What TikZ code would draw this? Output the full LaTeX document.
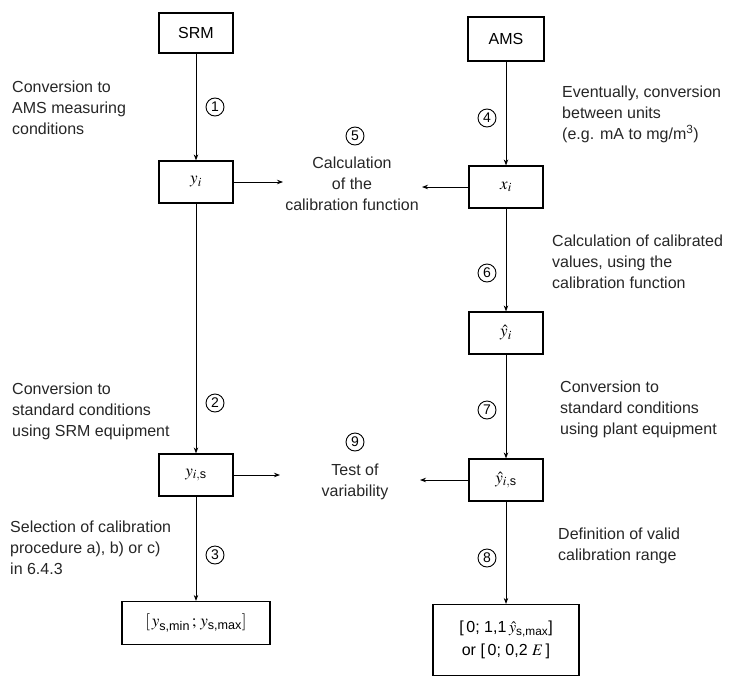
\documentclass[tikz,border=0pt]{standalone}
\usepackage{amsmath}
\usepackage{mathptmx}
\usepackage{fontspec}
\setmainfont{Liberation Sans}
\setsansfont{Liberation Sans}
\usetikzlibrary{arrows.meta}
\begin{document}
\begin{tikzpicture}[x=1pt,y=-1pt,
  box/.style={draw, line width=1.2pt, minimum width=74pt, minimum height=42pt, inner sep=2pt, font=\fontsize{17}{21}\selectfont},
  num/.style={draw, circle, line width=0.9pt, minimum size=18pt, inner sep=0pt, font=\fontsize{14}{14}\selectfont},
  txt/.style={align=left, anchor=north west, inner sep=0pt, font=\fontsize{16}{21}\selectfont, text=black!85},
  ctxt/.style={align=center, anchor=north, inner sep=0pt, font=\fontsize{16}{21}\selectfont, text=black!85},
  arr/.style={-{Stealth[length=6pt,width=4.5pt]}, line width=0.8pt}
]
\useasboundingbox (0,0) rectangle (733,680);
% boxes
\node[box, minimum height=40pt, font=\fontsize{16}{21}\selectfont] (srm) at (196,33) {SRM};
\node[box] (yi) at (196,182) {$y_i$};
\node[box] (yis) at (196,475) {$y_{i,\textsf{s}}$};
\node[box, minimum width=148pt, minimum height=43pt] (ylim) at (196,623) {$[\,y_{\textsf{s,min}}\,;\,y_{\textsf{s,max}}]$};
\node[box, minimum width=76pt, minimum height=44pt, font=\fontsize{16}{21}\selectfont] (ams) at (506,39) {AMS};
\node[box] (xi) at (506,187) {$x_i$};
\node[box] (yhi) at (506,333) {$\hat{y}_i$};
\node[box] (yhis) at (506,480) {$\hat{y}_{i,\textsf{s}}$};
\node[box, minimum width=146pt, minimum height=71pt, align=center, font=\fontsize{16}{23}\selectfont] (rng) at (506,640) {[\,0; 1,1\,$\hat{y}_{\textsf{s,max}}$]\\or [\,0; 0,2 $E$\,]};
% free ends
\coordinate (c5l) at (283,182);
\coordinate (c5r) at (422,187);
\coordinate (c9l) at (280,475);
\coordinate (c9r) at (420,480);
% vertical connectors
\draw[arr] (srm) -- (yi);
\draw[arr] (yi) -- (yis);
\draw[arr] (yis) -- (ylim);
\draw[arr] (ams) -- (xi);
\draw[arr] (xi) -- (yhi);
\draw[arr] (yhi) -- (yhis);
\draw[arr] (yhis) -- (rng);
% horizontal connectors
\draw[arr] (yi) -- (c5l);
\draw[arr] (xi) -- (c5r);
\draw[arr] (yis) -- (c9l);
\draw[arr] (yhis) -- (c9r);
% numbers
\node[num] (n1) at (215,107) {1};
\node[num] (n2) at (215,403) {2};
\node[num] (n3) at (215,555) {3};
\node[num] (n4) at (487,118) {4};
\node[num] (n5) at (355,136) {5};
\node[num] (n6) at (487,273) {6};
\node[num] (n7) at (487,410) {7};
\node[num] (n8) at (487,558) {8};
\node[num] (n9) at (355,442) {9};
% texts
\node[txt] (t1) at (12,81) {Conversion to\\AMS measuring\\conditions};
\node[txt] (t4) at (562,86) {Eventually, conversion\\between units\\(e.g. mA to mg/m\textsuperscript{3})};
\node[txt] (t6) at (552,235) {Calculation of calibrated\\values, using the\\calibration function};
\node[txt] (t7) at (560,381) {Conversion to\\standard conditions\\using plant equipment};
\node[txt] (t2) at (12,383) {Conversion to\\standard conditions\\using SRM equipment};
\node[txt] (t3) at (10,521) {Selection of calibration\\procedure a), b) or c)\\in 6.4.3};
\node[txt] (t8) at (558,528) {Definition of valid\\calibration range};
\node[ctxt] (t5) at (352,157) {Calculation\\of the\\calibration function};
\node[ctxt] (t9) at (355,464) {Test of\\variability};
\end{tikzpicture}
\end{document}
